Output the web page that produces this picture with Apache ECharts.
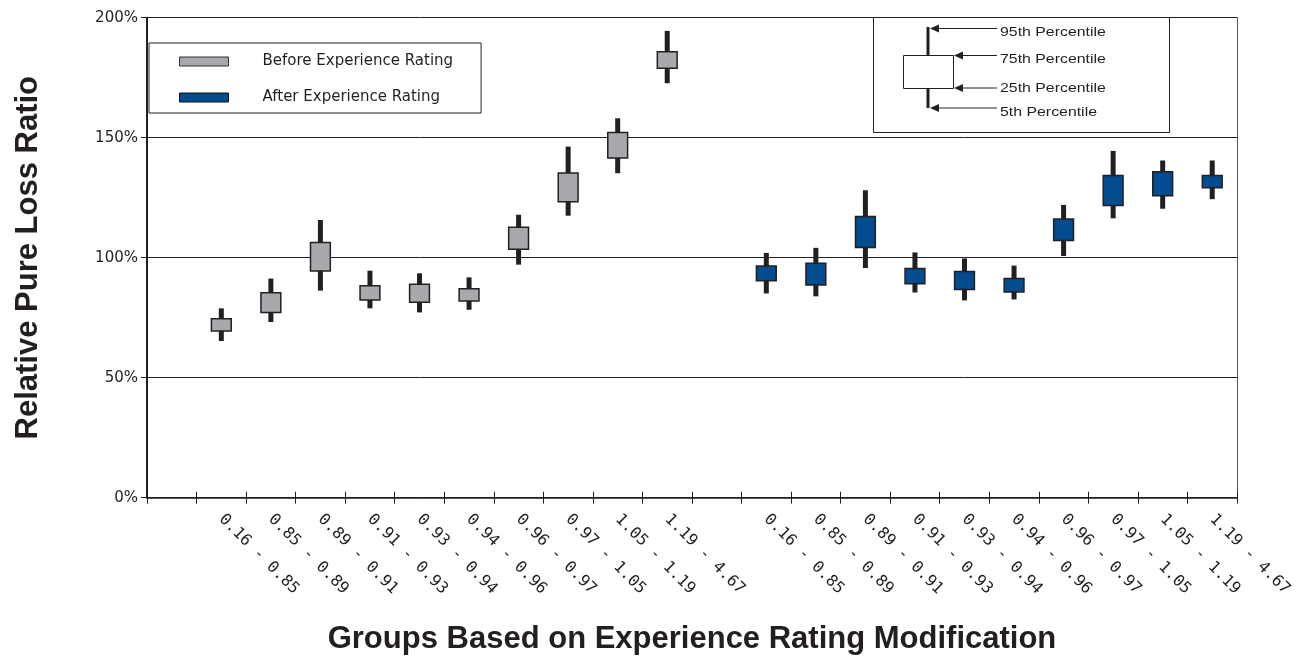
<!DOCTYPE html>
<html>
<head>
<meta charset="utf-8">
<script src="https://cdn.jsdelivr.net/npm/echarts@6/dist/echarts.min.js"></script>
<style>
html,body{margin:0;padding:0;background:#fff;}
#chart{width:1316px;height:663px;}
</style>
</head>
<body>
<div id="chart"></div>
<script>
// Group labels (experience rating modification ranges)
const groups = ['0.16 - 0.85','0.85 - 0.89','0.89 - 0.91','0.91 - 0.93','0.93 - 0.94','0.94 - 0.96','0.96 - 0.97','0.97 - 1.05','1.05 - 1.19','1.19 - 4.67'];

// Before experience rating percentiles (% relative pure loss ratio)
const before5  = [65.3, 73.2, 86.3, 78.9, 77.2, 78.3, 97.1, 117.5, 135.2, 172.7];
const before25 = [69.5, 77.2, 94.5, 82.4, 81.4, 82.0, 103.5, 123.3, 141.5, 178.9];
const before75 = [74.6, 85.4, 106.3, 88.3, 88.9, 87.1, 112.7, 135.3, 152.2, 185.8];
const before95 = [78.9, 91.3, 115.7, 94.6, 93.5, 91.8, 117.9, 146.3, 158.1, 194.5];

// After experience rating percentiles
const after5  = [85.1, 83.9, 95.7, 85.5, 82.2, 82.6, 100.7, 116.4, 120.4, 124.4];
const after25 = [90.4, 88.6, 104.3, 89.1, 86.8, 85.7, 107.2, 121.8, 125.8, 129.1];
const after75 = [96.5, 97.7, 117.2, 95.5, 94.2, 91.3, 116.1, 134.2, 135.8, 134.3];
const after95 = [102.0, 104.1, 128.1, 102.2, 99.7, 96.7, 122.0, 144.5, 140.5, 140.5];

const yTicks = [0, 50, 100, 150, 200];

const seriesNames = ['Before Experience Rating', 'After Experience Rating'];
const colBefore = '#a7a9ac';
const colAfter = '#024c8f';
const ink = '#231f20';

// Category slots: blank, 10 before groups, blank, 10 after groups
const categories = [''].concat(groups, [''], groups);

const beforeData = groups.map((g, i) => [1 + i, before5[i], before25[i], before75[i], before95[i]]);
const afterData = groups.map((g, i) => [12 + i, after5[i], after25[i], after75[i], after95[i]]);

function makeRender(fill) {
  return function (params, api) {
    const x = api.value(0);
    const p5 = api.coord([x, api.value(1)]);
    const p25 = api.coord([x, api.value(2)]);
    const p75 = api.coord([x, api.value(3)]);
    const p95 = api.coord([x, api.value(4)]);
    const bw = api.size([1, 0])[0] * 0.4;
    const ww = 5;
    return {
      type: 'group',
      children: [
        { type: 'rect', shape: { x: p95[0] - ww / 2, y: p95[1], width: ww, height: p5[1] - p95[1] },
          style: { fill: ink } },
        { type: 'rect', shape: { x: p75[0] - bw / 2, y: p75[1], width: bw, height: p25[1] - p75[1] },
          style: { fill: fill, stroke: ink, lineWidth: 1.5 } }
      ]
    };
  };
}

const chart = echarts.init(document.getElementById('chart'), null, { renderer: 'canvas' });

const sans = 'DejaVu Sans, Liberation Sans, Arial, sans-serif';

// Inset explanatory key (decoration, pixel layout)
function arrow(tipX, y, tailX) {
  return [
    { type: 'line', shape: { x1: tipX + 8, y1: y, x2: tailX, y2: y }, style: { stroke: ink, lineWidth: 1 } },
    { type: 'polygon', shape: { points: [[tipX, y], [tipX + 9, y - 4], [tipX + 9, y + 4]] }, style: { fill: ink } }
  ];
}
function keyText(txt, y) {
  return { type: 'text', x: 1000, y: y, scaleX: 1.22,
    style: { text: txt, x: 0, y: 0, verticalAlign: 'middle', fill: ink, fontSize: 13, fontFamily: 'Liberation Sans, Arial, sans-serif' } };
}
const insetChildren = [
  { type: 'rect', shape: { x: 873.5, y: 17.5, width: 296, height: 115 }, style: { fill: '#fff', stroke: ink, lineWidth: 1 } },
  { type: 'rect', shape: { x: 926.5, y: 27, width: 3, height: 81 }, style: { fill: ink } },
  { type: 'rect', shape: { x: 903.5, y: 55.5, width: 50, height: 33 }, style: { fill: '#fff', stroke: ink, lineWidth: 1 } }
].concat(
  arrow(930, 28.5, 997), arrow(954, 55.5, 997), arrow(954, 88, 997), arrow(930, 108, 997),
  [keyText('95th Percentile', 32), keyText('75th Percentile', 59), keyText('25th Percentile', 88), keyText('5th Percentile', 112)]
);

const option = {
  backgroundColor: '#fff',
  animation: false,
  textStyle: { fontFamily: 'Liberation Sans, Arial, sans-serif' },
  grid: { left: 147, right: 79, top: 17.7, bottom: 165.3 },
  legend: {
    orient: 'vertical',
    left: 149, top: 43,
    padding: [11, 28, 8, 30],
    itemWidth: 49, itemHeight: 9, itemGap: 21,
    borderColor: ink, borderWidth: 1,
    backgroundColor: '#fff',
    icon: 'rect',
    textStyle: { fontSize: 15, color: ink, fontFamily: sans, padding: [0, 0, 0, 29] },
    data: [
      { name: seriesNames[0], itemStyle: { color: colBefore, borderColor: '#333', borderWidth: 1 } },
      { name: seriesNames[1], itemStyle: { color: colAfter, borderColor: '#111', borderWidth: 1 } }
    ]
  },
  xAxis: [
    {
      type: 'category', data: categories, boundaryGap: true, position: 'bottom',
      axisLine: { show: true, lineStyle: { color: ink, width: 1.5 } },
      axisTick: { show: true, interval: 0, length: 6, lineStyle: { color: ink, width: 1 } },
      axisLabel: { interval: 0, rotate: -45, fontSize: 16, color: ink, margin: 19,
        fontFamily: 'DejaVu Sans Mono, monospace' },
      splitLine: { show: false },
      name: 'Groups Based on Experience Rating Modification',
      nameLocation: 'middle', nameGap: 126,
      nameTextStyle: { fontSize: 31, fontWeight: 'bold', color: ink }
    },
    {
      type: 'category', data: categories, boundaryGap: true, position: 'bottom', offset: 0,
      axisLine: { show: false },
      axisTick: { show: true, inside: true, interval: 0, length: 6, lineStyle: { color: ink, width: 1 } },
      axisLabel: { show: false },
      splitLine: { show: false }
    }
  ],
  yAxis: [
    {
      type: 'value', min: yTicks[0], max: yTicks[yTicks.length - 1], interval: 50,
      axisLine: { show: true, lineStyle: { color: ink, width: 2 } },
      axisTick: { show: true, length: 6, lineStyle: { color: ink } },
      axisLabel: { formatter: '{value}%', fontSize: 15, color: ink, margin: 9, fontFamily: sans },
      splitLine: { show: true, lineStyle: { color: ink, width: 1 } },
      name: 'Relative Pure Loss Ratio',
      nameLocation: 'middle', nameGap: 103, nameRotate: 90,
      nameTextStyle: { fontSize: 31, fontWeight: 'bold', color: ink }
    },
    {
      type: 'value', min: yTicks[0], max: yTicks[yTicks.length - 1], interval: 50, position: 'right',
      axisLine: { show: true, lineStyle: { color: '#555', width: 1 } },
      axisTick: { show: false }, axisLabel: { show: false }, splitLine: { show: false }
    }
  ],
  series: [
    { name: seriesNames[0], type: 'custom', xAxisIndex: 0, yAxisIndex: 0,
      itemStyle: { color: colBefore }, renderItem: makeRender(colBefore), data: beforeData,
      encode: { x: 0, y: [1, 2, 3, 4] } },
    { name: seriesNames[1], type: 'custom', xAxisIndex: 0, yAxisIndex: 0,
      itemStyle: { color: colAfter }, renderItem: makeRender(colAfter), data: afterData,
      encode: { x: 0, y: [1, 2, 3, 4] } }
  ],
  graphic: [{ type: 'group', children: insetChildren }]
};
chart.setOption(option);
</script>
</body>
</html>
